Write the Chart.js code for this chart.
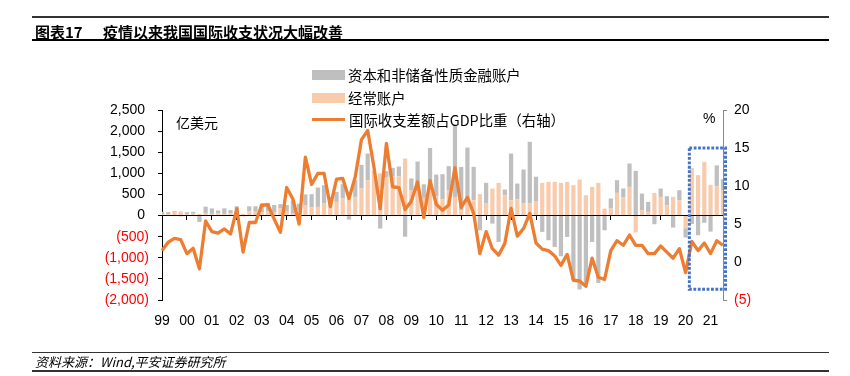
<!DOCTYPE html>
<html>
<head>
<meta charset="utf-8">
<script src="https://cdn.jsdelivr.net/npm/chart.js@4.4.1/dist/chart.umd.min.js"></script>
<style>
  html, body { margin: 0; padding: 0; background: #fff; }
  #wrap { position: relative; width: 850px; height: 376px; overflow: hidden;
          font-family: "Noto Sans CJK SC", "Liberation Sans", sans-serif; color: #000; }
  #chart { position: absolute; left: 0; top: 0; }
  .rule { position: absolute; left: 32px; width: 797px; }
  .txt { position: absolute; white-space: nowrap; line-height: 1; }
  .sw { position: absolute; left: 312px; width: 33px; }
</style>
</head>
<body>
<div id="wrap">
  <canvas id="chart" width="850" height="376"></canvas>

  <div class="rule" style="top:16px;height:1.5px;background:#333;"></div>
  <div class="txt" style="left:35px;top:24px;font-size:15px;font-weight:bold;">图表17</div>
  <div class="txt" style="left:103px;top:24px;font-size:15px;font-weight:bold;">疫情以来我国国际收支状况大幅改善</div>
  <div class="rule" style="top:39px;height:2px;background:#000;"></div>

  <div class="sw" style="top:70px;height:10px;background:#BFBFBF;"></div>
  <div class="txt" style="left:348px;top:68px;font-size:14.4px;">资本和非储备性质金融账户</div>
  <div class="sw" style="top:93px;height:10px;background:#F8CBAD;"></div>
  <div class="txt" style="left:348px;top:91px;font-size:14.4px;">经常账户</div>
  <div class="sw" style="top:118px;height:3px;background:#ED7D31;"></div>
  <div class="txt" style="left:349px;top:113px;font-size:14.4px;">国际收支差额占GDP比重（右轴）</div>

  <div class="txt" style="left:176px;top:115px;font-size:14px;">亿美元</div>
  <div class="txt" style="left:703px;top:111px;font-size:14px;font-family:'Liberation Sans',sans-serif;">%</div>

  <div class="rule" style="top:352px;height:1px;background:#333;"></div>
  <div class="txt" style="left:35px;top:355px;font-size:13px;font-style:italic;">资料来源：Wind,平安证券研究所</div>
  <div class="rule" style="top:370px;height:1.5px;background:#333;"></div>
</div>

<script>
// 年份刻度标签（季度数据，1999Q1 - 2021Q3）
const yearLabels = ['99','00','01','02','03','04','05','06','07','08','09','10',
                    '11','12','13','14','15','16','17','18','19','20','21'];
const quarters = [];
yearLabels.forEach(y => ['Q1','Q2','Q3','Q4'].forEach(q => {
  if (quarters.length < 91) quarters.push(y + q);
}));

// 经常账户（亿美元）
const currentAccount = [
  40, 30, 90, 100,      30, 60, 40, 60,       40, 50, 40, 50,       70, 40, 100, 90,
  80, 100, 70, 170,     90, 60, 120, 250,     190, 205, 284, 245,   324, 403, 442, 442,
  640, 837, 1035, 1000, 900, 930, 930, 1350,  600, 580, 420, 750,   450, 380, 600, 440,
  130, 380, 363, 510,   284, 640, 774, 482,   363, 387, 284, 284,   330, 774, 798, 798,
  774, 798, 719, 853,   482, 680, 774, 166,   166, 537, 427, 680,   -400, 126, 87, 537,
  442, 245, 442, 363,   -300, 1130, 956, 1272, 730, 690, 600
];

// 资本和非储备性质金融账户（亿美元）
const capitalAccount = [
  50, 50, 20, -20,      50, 30, -150, 150,    130, 70, 130, 80,     150, -20, 120, 130,
  190, 200, 180, 100,   160, 300, 160, 250,   316, 459, 435, 197,   237, 340, -95, 395,
  560, 632, 30, -308,   150, 200, 230, -500,  280, 700, 320, 850,   520, 600, 570, 1700,
  1020, 1230, 790, -350, 490, -190, -624, 134, 1106, 371, 806, 1462, 590, -387, -585, -743,
  -964, -506, -1533, -1750, -1650, -624, -1596, -348, 237, 300, 213, 553, 1059, 395, 237, -205,
  198, 213, -284, 237,  -220, -200, -466, -170, -380, 500, 260
];

// 国际收支差额占GDP比重（%，右轴）
const bopRatio = [
  1.5, 2.6, 3.1, 2.95,  1.1, 1.8, -0.9, 5.4,  4.0, 3.8, 4.35, 3.7,  7.0, 1.3, 5.2, 5.2,
  7.5, 7.5, 5.65, 3.9,  9.8, 8.3, 5.0, 13.8,  10.2, 11.65, 11.65, 7.3, 10.9, 11.0, 8.35, 11.2,
  16.1, 17.3, 12.5, 7.0, 15.6, 9.9, 9.8, 6.9, 8.0, 10.55, 5.85, 10.7, 7.6, 6.8, 7.5, 12.4,
  7.2, 8.5, 6.4, 1.1,   4.0, 1.75, 0.9, 2.45, 7.05, 3.4, 4.4, 6.4,  2.5, 1.7, 1.5, 0.8,
  -0.45, 1.0, -2.4, -2.5, -3.2, 0.5, -2.0, -2.3, 1.5, 2.8, 2.2, 3.55, 2.2, 2.2, 1.1, 1.1,
  2.1, 1.3, 0.5, 1.75,  -1.4, 2.7, 1.5, 2.5,  1.1, 2.8, 2.2
];

// 蓝色虚线框：2020年以来（x 为季度序号，y 为右轴数值）
const highlight = { from: 84.6, to: 90.4, top: 15, bottom: -3.6 };

const tickFont = { family: "'Liberation Sans', Arial, sans-serif", size: 14 };

const highlightBox = {
  id: 'highlightBox',
  afterDraw(chart) {
    const { ctx, scales: { x, y2 } } = chart;
    const l = x.getPixelForValue(highlight.from);
    const r = x.getPixelForValue(highlight.to);
    const t = y2.getPixelForValue(highlight.top);
    const b = y2.getPixelForValue(highlight.bottom);
    ctx.save();
    ctx.strokeStyle = '#4472C4';
    ctx.lineWidth = 3;
    ctx.setLineDash([2.8, 1.6]);
    ctx.strokeRect(l, t, r - l, b - t);
    ctx.restore();
  }
};

const ctx = document.getElementById('chart').getContext('2d');
new Chart(ctx, {
  type: 'bar',
  data: {
    labels: quarters,
    datasets: [
      {
        label: '经常账户',
        data: currentAccount,
        backgroundColor: '#F8CBAD',
        yAxisID: 'y',
        order: 1,
        barPercentage: 0.68,
        categoryPercentage: 1,
        clip: 0
      },
      {
        label: '资本和非储备性质金融账户',
        data: capitalAccount,
        backgroundColor: '#BFBFBF',
        yAxisID: 'y',
        order: 1,
        barPercentage: 0.68,
        categoryPercentage: 1,
        clip: 0
      },
      {
        type: 'line',
        label: '国际收支差额占GDP比重（右轴）',
        data: bopRatio,
        borderColor: '#ED7D31',
        backgroundColor: '#ED7D31',
        borderWidth: 3.3,
        borderJoinStyle: 'round',
        pointRadius: 0,
        tension: 0,
        yAxisID: 'y2',
        order: 0
      }
    ]
  },
  options: {
    responsive: false,
    animation: false,
    layout: { padding: { top: 110, bottom: 36, left: 0, right: 0 } },
    plugins: {
      legend: { display: false },
      tooltip: { enabled: false }
    },
    scales: {
      x: {
        type: 'category',
        position: 'bottom',
        offset: false,
        stacked: true,
        grid: { display: false, offset: false },
        border: { display: false },
        ticks: {
          autoSkip: false,
          maxRotation: 0,
          padding: 5,
          font: tickFont,
          color: '#000',
          callback: (v, i) => (i % 4 === 0 ? yearLabels[i / 4] : '')
        },
        afterFit: s => { s.height = 40; }
      },
      x0: {
        type: 'category',
        position: { y: 0 },
        offset: false,
        z: 1,
        grid: {
          offset: false,
          drawOnChartArea: false,
          tickLength: 4,
          color: c => (c.index % 4 === 0 ? '#000' : 'rgba(0,0,0,0)')
        },
        border: { color: '#000', width: 1 },
        ticks: { display: false }
      },
      y: {
        position: 'left',
        stacked: true,
        min: -2000,
        max: 2500,
        grid: { drawOnChartArea: false, tickLength: 4, color: '#000' },
        border: { color: '#000' },
        ticks: {
          stepSize: 500,
          padding: 9,
          font: tickFont,
          color: c => (c.tick.value < 0 ? '#FF0000' : '#000'),
          callback: v => {
            const s = Math.abs(v).toLocaleString('en-US');
            return v < 0 ? '(' + s + ')' : s + ' ';
          }
        },
        afterFit: s => { s.width = 162; }
      },
      y2: {
        position: 'right',
        min: -5,
        max: 20,
        grid: { drawOnChartArea: false, tickLength: 4, color: '#888' },
        border: { color: '#888' },
        ticks: {
          stepSize: 5,
          padding: 7,
          font: tickFont,
          color: c => (c.tick.value < 0 ? '#FF0000' : '#000'),
          callback: v => (v < 0 ? '(' + Math.abs(v) + ')' : String(v))
        },
        afterFit: s => { s.width = 127; }
      }
    }
  },
  plugins: [highlightBox]
});
</script>
</body>
</html>
